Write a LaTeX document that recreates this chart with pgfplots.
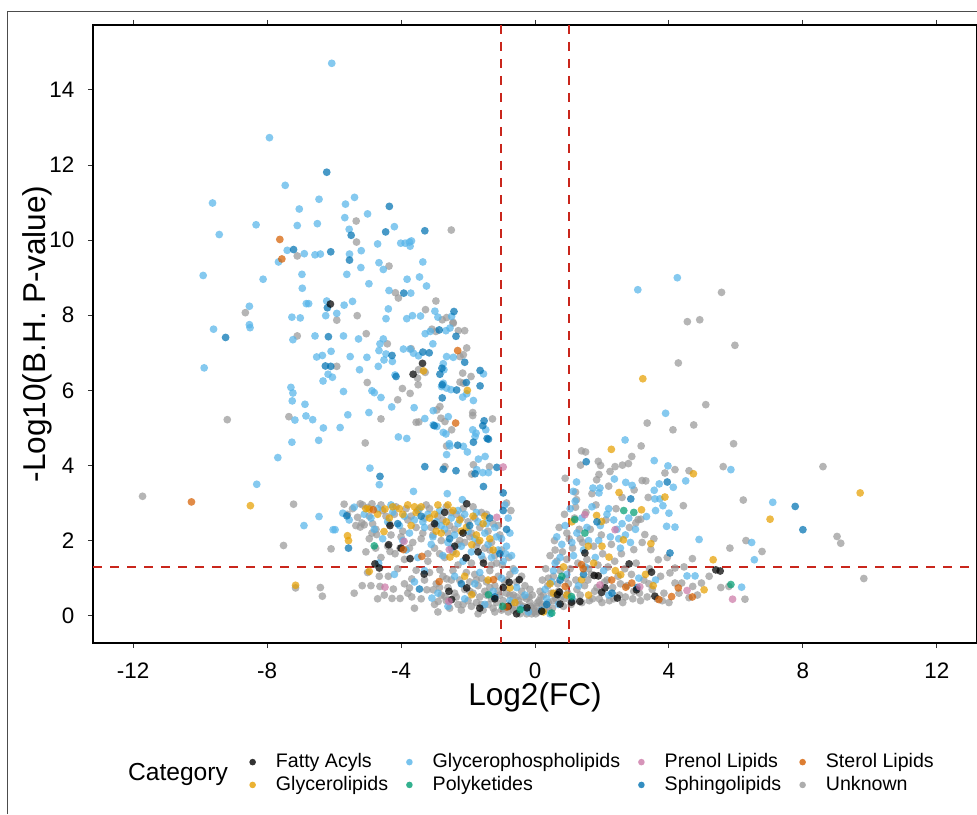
\documentclass[border=0pt]{standalone}
\usepackage{fontspec}
\setmainfont{Liberation Sans}
\usepackage{pgfplots}
\pgfplotsset{compat=1.18}
\definecolor{cFA}{HTML}{000000}
\definecolor{cGL}{HTML}{E69F00}
\definecolor{cGP}{HTML}{56B4E9}
\definecolor{cPK}{HTML}{009E73}
\definecolor{cPR}{HTML}{CC79A7}
\definecolor{cSP}{HTML}{0072B2}
\definecolor{cST}{HTML}{D55E00}
\definecolor{cUN}{HTML}{999999}
\definecolor{cRed}{HTML}{C9261C}
\pgfplotsset{
  pts/.style={only marks, mark=*, mark size=1.95pt, forget plot, color=#1,
    mark options={draw opacity=0, fill=#1, fill opacity=0.72}},
  key/.style={only marks, mark=*, mark size=1.65pt, color=#1,
    mark options={draw opacity=0, fill=#1, fill opacity=0.8}},
}
\tikzset{thr/.style={draw=cRed, line width=0.9pt, dash pattern=on 4.5pt off 4pt, draw opacity=1}}
\begin{document}
\begin{tikzpicture}[x=1pt,y=1pt]
\path[use as bounding box] (0,0) rectangle (488.5,407);
\draw[black!70, line width=0.5pt] (3.85,0) -- (3.85,401.2) -- (488.5,401.2);
\node[font=\fontsize{12.3}{14}\selectfont] at (89,20) {Category};
\begin{axis}[
  at={(46.5pt,85.5pt)}, anchor=south west,
  scale only axis, width=442pt, height=309pt,
  xmin=-13.2, xmax=13.2, ymin=-0.727, ymax=15.73,
  axis line style={black, line width=0.6pt},
  xtick={-12,-8,-4,0,4,8,12}, ytick={0,2,4,6,8,10,12,14},
  tick align=outside, major tick length=2.6pt,
  every tick/.style={black!80, line width=0.5pt},
  /pgf/number format/assume math mode=true,
  tick label style={font=\fontsize{11.2}{13}\selectfont},
  xticklabel style={anchor=north, inner sep=0pt, yshift=-7pt},
  yticklabel style={anchor=east, inner sep=0pt, xshift=-6.5pt},
  xlabel={Log2(FC)}, ylabel={-Log10(B.H. P-value)},
  label style={font=\fontsize{15.8}{18}\selectfont},
  xlabel style={at={(axis description cs:0.5,-0.0874)}, anchor=center},
  ylabel style={at={(axis description cs:-0.0633,0.5)}, anchor=center},
  legend columns=4, legend cell align=left,
  legend style={draw=none, fill=none, at={(0.1696,-0.2112)}, anchor=west,
    font=\fontsize{9.8}{11}\selectfont, row sep=1.8pt,
    nodes={inner ysep=0.5pt},
    /tikz/every odd column/.append style={column sep=8pt},
    /tikz/every even column/.append style={column sep=7pt}},
]
% Unknown
\addplot[pts=cUN] coordinates {
(-7.10,9.58) (-8.65,8.07) (-5.34,10.51) (-2.50,10.27) (-5.33,9.95) (-4.36,9.31) (-4.17,8.60) (-4.08,8.46)
(-5.92,7.87) (-5.31,7.99) (-3.27,8.15) (-2.96,8.38) (-2.77,7.88) (-2.64,7.94) (-2.45,7.81)
(5.57,8.61) (4.55,7.83) (4.92,7.88) (-7.10,7.45) (-9.19,5.22) (-7.35,5.30) (-11.72,3.18) (-7.21,2.97)
(-7.51,1.87) (-6.09,1.78) (-7.15,0.74) (-6.41,0.75) (-6.35,0.52) (-5.04,7.51) (-4.41,7.24) (-3.70,7.11)
(-3.08,7.63) (-2.96,7.57) (-2.44,7.79) (-2.29,7.59) (-2.10,7.59) (-2.04,7.13) (-2.14,6.95) (-2.24,6.90)
(-5.92,6.64) (-3.48,6.55) (-3.28,6.48) (-3.51,6.33) (-3.49,6.15) (-5.01,6.21) (-3.96,6.05) (-3.73,5.92)
(-4.10,5.75) (-4.60,5.24) (-3.55,5.15) (-3.47,5.16) (-5.07,4.60) (-2.16,6.46) (-1.91,6.37) (-2.24,6.22)
(-2.14,6.19) (-2.84,5.57) (-2.93,5.48) (-1.86,5.41) (-1.86,5.33) (-2.81,5.26) (-2.69,5.17) (-1.27,5.24)
(-2.49,4.95) (-2.64,4.52) (-2.69,3.97) (-1.84,4.02) (-1.36,3.97) (-1.89,3.77)
(-0.85,3.00) (-5.70,2.97) (-5.22,2.98) (-4.87,2.98) (-5.17,2.47) (-5.10,2.42) (-5.22,2.36) (-4.87,2.20)
(-4.73,2.16) (-4.76,1.80) (-4.33,1.71) (-4.18,1.65) (-4.03,1.80) (-4.65,1.05) (-4.38,1.05) (-5.16,0.80)
(-4.90,0.80) (-4.63,0.78) (-4.23,0.71) (-4.27,0.46) (-4.03,0.46) (-3.68,0.98) (-3.75,0.74) (-3.68,0.50)
(-3.55,1.21) (-3.23,0.69) (-3.04,0.69) (-2.89,0.38) (-2.69,0.51) (-2.64,0.98) (-2.84,1.22)
(5.97,7.20) (4.28,6.73) (5.10,5.62) (3.35,5.13) (4.12,4.95) (4.74,5.08) (5.93,4.58) (3.17,4.52)
(2.89,4.24) (2.79,4.05) (2.61,4.01) (2.39,3.97) (2.24,3.84) (4.18,3.89) (3.88,3.80) (4.60,3.86)
(5.62,3.97) (1.39,4.39) (1.51,4.36) (1.36,4.01) (1.89,4.11) (1.96,4.00) (1.91,3.76) (0.90,3.66)
(1.21,3.29) (1.24,3.09) (1.21,2.89) (1.84,3.62) (2.96,3.35) (3.31,3.59) (3.38,3.15) (4.43,2.93)
(6.22,3.08) (5.82,1.80) (6.30,2.00) (4.70,1.52) (5.79,0.78) (6.27,0.44) (4.97,0.87) (4.71,0.78)
(4.60,0.48) (4.18,1.27) (4.03,1.14) (4.18,0.87) (4.38,0.87) (3.68,1.49) (3.46,1.76) (3.28,2.16)
(2.95,1.76) (3.08,2.56) (3.16,2.57) (3.01,2.47)
(8.60,3.97) (9.02,2.11) (9.13,1.93) (6.78,1.71) (9.82,0.99)
(-5.45,2.85) (-5.30,2.62) (-5.00,2.88) (-4.85,2.45) (-4.60,2.95) (-4.45,2.65) (-4.30,2.15) (-4.15,2.90)
(-3.95,2.25) (-3.80,2.55) (-3.65,1.95) (-3.50,2.80) (-3.35,2.20) (-3.25,2.95) (-3.10,2.35) (-3.00,1.80)
(-2.90,2.65) (-2.80,2.00) (-2.65,2.90) (-2.55,2.40) (-2.45,1.70) (-2.35,2.70) (-2.25,2.00) (-2.15,2.85)
(-2.05,1.55) (-1.95,2.10) (-1.85,2.90) (-1.75,1.85) (-1.65,2.35) (-1.55,1.50) (-1.45,2.70) (-1.35,1.75)
(-1.25,2.45) (-1.15,1.40) (-1.05,2.15) (-0.98,1.35) (-4.95,2.05) (-4.40,1.85) (-3.90,1.50) (-3.20,1.45)
(-2.70,1.55) (-2.30,1.35) (-1.90,1.40) (-1.30,1.35) (-0.78,1.55) (-0.72,2.80)
(-5.60,2.70) (-5.35,2.40) (-5.15,2.95) (-4.95,2.65) (-4.75,2.30) (-4.55,2.80) (-4.35,2.45) (-4.20,2.70)
(-4.00,2.10) (-3.85,2.85) (-3.70,2.65) (-3.55,2.35) (-3.40,2.05) (-3.30,2.60) (-3.15,2.85) (-3.05,2.15)
(-2.95,2.40) (-2.85,1.65) (-2.75,2.55) (-2.60,2.20) (-2.50,2.75) (-2.40,2.30) (-2.30,1.90) (-2.20,2.60)
(-2.10,1.95) (-2.00,2.50) (-1.90,2.20) (-1.80,2.60) (-1.70,1.95) (-1.60,2.75) (-1.50,1.80) (-1.40,2.25)
(-1.30,1.95) (-1.20,1.60) (-1.10,2.40) (-1.00,1.75) (-3.75,1.80) (-3.20,1.65) (-4.60,1.55) (-5.05,1.70)
(-5.40,0.60) (-5.00,1.15) (-4.50,0.55) (-4.10,1.25) (-3.90,0.85) (-3.40,0.45) (-3.30,0.95) (-3.15,1.15)
(-3.00,0.30) (-2.95,0.85) (-2.80,0.55) (-2.75,1.05) (-2.60,0.75) (-2.55,0.20) (-2.45,1.20) (-2.40,0.60)
(-2.30,0.30) (-2.25,0.95) (-2.20,0.15) (-2.10,0.70) (-2.05,1.15) (-2.00,0.40) (-1.95,0.90) (-1.90,0.25)
(-1.85,0.60) (-1.80,1.10) (-1.75,0.35) (-1.70,0.80) (-1.65,0.50) (-1.60,1.00) (-1.55,0.15) (-1.50,0.65)
(-1.45,0.90) (-1.40,0.30) (-1.35,1.20) (-1.30,0.45) (-1.25,0.20) (-1.20,0.80) (-1.15,0.35) (-1.10,1.05)
(-1.05,0.55) (-1.00,0.15) (-0.95,0.40) (-0.90,0.90) (-0.85,0.60) (-0.80,0.10) (-0.75,1.10) (-0.70,0.35)
(-0.65,0.55) (-0.60,0.20) (-0.55,0.90) (-0.50,0.40) (-0.45,0.05) (-0.40,0.65) (-0.35,0.25) (-0.30,0.80)
(-0.25,0.45) (-0.20,0.15) (-0.15,0.35) (-0.10,0.05) (-0.08,0.55) (-0.05,0.20) (-0.02,0.10) (-3.60,0.20)
(-2.90,0.10) (-1.70,0.05) (-0.65,1.25) (-0.40,1.05) (-0.15,0.70) (-3.80,0.60) (-4.70,0.45)
(-2.85,0.75) (-2.65,0.40) (-2.50,0.95) (-2.35,0.50) (-2.15,0.30) (-1.95,0.65) (-1.75,0.95) (-1.60,0.30)
(-1.45,0.55) (-1.35,0.75) (-1.20,0.10) (-1.10,0.65) (-0.95,0.20) (-0.85,0.95) (-0.75,0.55) (-0.65,0.15)
(-0.55,0.50) (-0.45,0.30) (-0.35,0.50) (-0.25,0.05) (-0.18,0.50) (-0.12,0.25)
(0.02,0.05) (0.05,0.25) (0.10,0.10) (0.12,0.40) (0.15,0.65) (0.20,0.30) (0.22,0.95) (0.25,0.55)
(0.30,0.15) (0.32,1.25) (0.38,0.80) (0.40,0.35) (0.45,1.60) (0.48,0.60) (0.52,0.20) (0.55,1.05)
(0.58,2.00) (0.62,0.45) (0.65,1.45) (0.68,0.85) (0.72,2.35) (0.75,1.20) (0.78,0.50) (0.82,1.70)
(0.85,0.25) (0.88,2.70) (0.92,1.00) (0.95,1.50) (0.98,0.60) (1.02,2.05) (1.05,1.25) (1.08,0.30)
(1.12,1.80) (1.18,2.60) (1.22,0.95) (1.28,1.40) (1.32,2.30) (1.35,0.55) (1.42,1.95) (1.48,0.80)
(1.52,2.75) (1.55,1.50) (1.62,0.40) (1.65,2.30) (1.68,1.10) (1.75,1.85) (1.78,0.65) (1.82,2.95)
(1.88,1.35) (1.92,0.45) (1.98,2.15) (2.02,1.65) (2.08,0.90) (2.12,2.55) (2.18,1.30) (2.22,0.40)
(2.28,1.90) (2.32,0.75) (2.38,1.45) (2.42,2.85) (2.48,1.05) (2.52,0.55) (2.58,1.65) (2.62,0.35)
(2.68,1.25) (2.75,0.80) (2.82,2.35) (2.88,1.10) (2.92,0.45) (3.02,1.40) (3.12,0.60) (3.20,1.95)
(3.25,0.95) (3.35,0.50) (3.42,1.25) (3.50,0.70) (3.55,2.05) (3.65,0.45) (3.75,1.05) (3.85,0.60)
(3.95,1.55) (4.00,0.35) (4.30,0.60) (4.45,1.30) (4.85,0.55) (5.20,1.05) (5.55,0.75) (3.20,3.60)
(2.60,3.15) (2.20,3.45) (1.70,3.25)
(0.08,0.35) (0.18,0.50) (0.28,0.25) (0.42,0.15) (0.55,0.40) (0.70,0.65) (0.88,0.45) (1.00,0.85)
(1.15,0.40) (1.25,0.70) (1.40,0.35) (1.58,0.95) (1.72,0.45) (1.85,0.75) (2.00,0.35) (2.15,0.95)
(2.35,0.45) (2.55,0.85) (2.70,0.50) (2.95,0.65) (3.15,0.40) (3.40,0.85) (3.80,0.40) (0.60,1.75)
(0.40,1.00) (0.95,2.20) (1.35,2.05) (1.60,1.25)
};
% Glycerophospholipids
\addplot[pts=cGP] coordinates {
(-6.07,14.71) (-7.93,12.73) (-7.46,11.46) (-9.63,10.99) (-6.45,11.09) (-7.04,10.83) (-8.33,10.41) (-7.10,10.39)
(-6.50,10.44) (-9.43,10.15) (-7.40,9.73) (-6.89,9.64) (-7.66,9.42) (-6.57,9.61) (-6.41,9.63) (-9.91,9.06)
(-8.12,8.96) (-6.96,9.09) (-6.95,8.72) (-8.53,8.24) (-6.83,8.31) (-6.76,8.31) (-6.22,8.38) (-7.26,7.95)
(-7.01,7.93) (-6.25,7.99) (-8.53,7.75) (-5.39,11.14) (-5.66,10.96) (-5.68,10.60) (-5.00,10.70) (-5.55,10.29)
(-4.20,10.36) (-4.70,9.90) (-4.01,9.92) (-3.88,9.92) (-3.75,9.95) (-3.69,9.98) (-3.73,9.84) (-5.54,9.63)
(-5.19,9.72) (-4.66,9.40) (-4.53,9.22) (-3.35,9.42) (-5.62,9.09) (-5.20,9.27) (-3.82,8.96) (-3.45,9.02)
(-4.96,8.84) (-3.24,8.78) (-4.36,8.66) (-3.71,8.59) (-5.70,8.27) (-5.45,8.37) (-5.92,8.05) (-4.38,8.17)
(-4.45,7.91) (-3.83,7.91) (-3.66,7.99) (-3.42,7.98) (-2.99,8.11) (-2.90,7.95) (-2.49,7.97) (3.07,8.68)
(4.25,9.00) (-9.60,7.63) (-8.51,7.67) (-7.23,7.35) (-6.57,7.45) (-6.09,7.04) (-6.52,6.89) (-6.35,6.93)
(-6.18,6.43) (-6.05,6.35) (-6.33,6.25) (-9.88,6.60) (-7.29,6.08) (-7.23,5.93) (-7.25,5.72) (-6.87,5.63)
(-7.17,5.21) (-6.84,5.32) (-6.64,5.22) (-6.32,5.00) (-7.26,4.62) (-6.46,4.67) (-7.68,4.21) (-8.31,3.50)
(-6.45,2.64) (-6.90,2.40) (-6.03,2.29)
(-5.72,7.45) (-5.27,7.37) (-4.53,7.37) (-4.63,7.24) (-4.66,7.06) (-4.45,6.97) (-4.51,6.81) (-4.26,6.77)
(-5.52,6.90) (-5.02,6.88) (-5.24,6.55) (-4.68,6.64) (-3.93,7.10) (-3.73,7.10) (-3.63,6.99) (-3.48,6.92)
(-3.05,7.24) (-3.28,7.51) (-3.13,7.57) (-2.66,7.59) (-2.54,7.66) (-2.64,6.90) (-2.44,6.88) (-4.18,6.41)
(-5.72,5.97) (-4.87,5.99) (-4.80,5.94) (-4.60,5.81) (-4.28,5.56) (-3.61,5.54) (-5.59,5.35) (-4.96,5.41)
(-5.82,5.01) (-3.29,5.25) (-4.08,4.76) (-3.83,4.72) (-4.93,3.93) (-4.65,3.49) (-2.74,6.71) (-2.72,6.55)
(-1.54,6.44) (-2.74,6.19) (-2.64,6.06) (-2.79,6.10) (-2.51,6.02) (-2.16,5.82) (-2.04,5.91) (-1.84,5.73)
(-3.04,5.46) (-2.59,5.30) (-3.04,5.08) (-2.93,5.04) (-2.74,4.88) (-2.66,4.84) (-1.86,4.95) (-1.76,4.86)
(-1.79,4.77) (-1.47,4.95) (-2.56,4.58) (-2.54,4.52) (-2.14,4.51) (-2.02,4.36) (-2.64,4.29) (-1.69,4.17)
(-1.49,4.24) (-1.74,3.89) (-1.56,3.81) (-1.39,3.81)
(-3.63,3.31) (-2.62,3.25) (-2.17,3.09) (-5.40,2.89) (-5.74,2.73) (-5.97,2.29) (-4.67,1.40) (-3.08,0.47)
(3.90,5.39) (2.69,4.68) (3.56,4.13) (3.97,3.99) (5.85,3.89) (1.24,3.56) (1.14,3.31) (1.73,3.40)
(1.91,3.27) (1.94,3.40) (2.37,3.64) (2.71,3.55) (2.90,3.47) (3.71,3.51) (4.13,3.42) (4.50,3.59)
(3.56,3.34) (3.58,3.11) (3.73,3.11) (3.82,2.93) (3.60,2.80) (4.00,2.73) (3.93,2.38) (4.18,2.36)
(4.90,2.03) (6.47,1.95) (6.55,1.49) (6.17,0.76) (4.54,1.06) (4.78,1.06) (3.33,2.64) (7.10,3.02)
(-5.55,2.55) (-5.10,2.70) (-4.90,2.60) (-4.70,2.85) (-4.40,2.50) (-4.25,2.75) (-4.05,2.40) (-3.90,2.65)
(-3.75,2.20) (-3.60,2.55) (-3.45,2.85) (-3.30,2.35) (-3.20,2.70) (-3.05,2.10) (-2.95,2.50) (-2.85,2.80)
(-2.70,2.30) (-2.60,1.95) (-2.50,2.60) (-2.40,2.15) (-2.30,2.45) (-2.20,1.85) (-2.10,2.70) (-2.00,2.25)
(-1.90,1.70) (-1.80,2.05) (-1.70,2.50) (-1.60,1.60) (-1.50,2.20) (-1.40,1.90) (-1.30,1.55) (-1.20,2.35)
(-1.10,1.75) (-1.00,2.05) (-0.95,1.45) (-4.55,2.05) (-3.85,1.75) (-3.50,1.55) (-2.75,1.60) (-2.15,1.45)
(-0.80,2.60) (-0.75,2.20) (-0.85,1.85) (-0.70,1.60) (-0.90,2.95)
(-4.80,2.30) (-4.30,2.95) (-3.95,2.00) (-3.35,2.50) (-2.80,2.40) (-2.30,2.80) (-1.75,2.75) (-1.45,2.45)
(-1.15,2.10) (-0.88,1.65) (-2.50,1.80) (-3.10,1.90)
(-4.20,1.10) (-3.60,0.90) (-2.90,0.60) (-2.40,1.05) (-2.10,0.45) (-1.80,0.85) (-1.50,0.30) (-1.25,0.65)
(-1.00,1.00) (-0.75,0.40) (-0.55,0.75) (-0.40,0.20) (-0.30,0.55) (-0.20,0.10) (-2.60,0.25) (-3.30,1.20)
(-1.65,1.15) (-0.60,1.20)
(0.20,0.15) (0.35,0.45) (0.50,0.90) (0.60,1.40) (0.70,0.30) (0.80,1.90) (0.90,2.40) (0.95,1.10)
(1.05,2.85) (1.15,1.60) (1.25,2.20) (1.30,0.80) (1.40,2.60) (1.50,1.30) (1.60,2.00) (1.70,2.90)
(1.80,1.55) (1.95,2.40) (2.05,1.20) (2.15,2.70) (2.25,2.10) (2.35,2.55) (2.45,2.30) (2.55,1.80)
(2.60,2.45) (2.70,2.15) (2.80,2.60) (2.85,1.95) (3.00,2.30) (3.10,1.00) (3.60,0.95) (0.45,0.05)
(0.30,0.70) (1.10,0.45) (2.20,0.55) (0.65,2.10) (1.20,3.05)
(0.75,1.55) (1.10,1.95) (1.45,1.75) (1.90,2.00) (2.50,2.05) (2.20,2.85) (1.55,2.35) (0.55,1.20)
};
% Glycerolipids
\addplot[pts=cGL] coordinates {
(-8.50,2.93) (-7.15,0.81) (-3.33,6.52) (-2.02,6.00) (-4.95,2.84) (-4.48,2.84) (-5.60,2.13) (-5.57,2.00)
(-4.51,2.24) (-4.95,1.18) (3.22,6.31) (2.28,4.43) (4.73,3.78) (2.51,3.28) (3.88,3.16) (3.18,2.82)
(2.64,2.02) (3.46,1.92) (5.32,1.49) (5.05,0.69) (7.02,2.57) (9.71,3.27)
(-4.25,2.90) (-4.05,2.85) (-3.80,2.95) (-3.55,2.75) (-3.40,2.90) (-3.15,2.60) (-2.90,2.95) (-2.65,2.50)
(-2.45,2.80) (-2.25,2.55) (-2.05,2.35) (-1.85,2.65) (-1.75,2.15) (-1.55,2.45) (-1.35,2.05) (-1.25,1.75)
(-2.80,2.20) (-3.70,2.40) (-4.70,2.70) (-2.35,1.65) (-1.89,1.89) (-2.54,1.56)
(-5.05,2.85) (-4.35,2.60) (-3.95,2.70) (-3.60,2.90) (-3.00,2.70) (-2.60,2.95) (-2.20,2.25) (-1.65,2.00)
(-1.50,2.65) (-2.95,2.25)
(-1.89,0.56) (-0.75,0.74) (-2.10,1.05) (-1.40,0.95) (-0.60,0.35)
(1.59,1.85) (1.99,2.51) (2.21,1.56) (2.56,1.09) (3.53,0.80) (1.39,0.96) (1.84,2.67) (0.55,0.60)
(0.85,1.30) (1.10,2.50) (0.25,0.10) (1.60,0.55)
(0.95,0.55) (1.75,1.40) (2.40,1.20) (2.00,1.85) (3.30,1.10) (0.45,0.85)
};
% Sphingolipids
\addplot[pts=cSP] coordinates {
(-6.22,11.81) (-7.21,9.75) (-6.10,9.69) (-6.20,8.20) (-4.35,10.90) (-5.49,10.13) (-4.46,10.22) (-3.29,10.25)
(-5.54,9.47) (-3.92,8.59) (-2.42,8.10) (-9.24,7.41) (-6.17,7.43) (-6.26,6.65) (-6.10,6.64) (-4.27,6.93)
(-3.35,7.02) (-3.16,7.00) (-2.86,7.61) (-2.36,7.44) (-2.10,6.75) (-4.15,6.37) (-4.63,3.71) (-3.29,3.97)
(-2.78,6.59) (-2.84,6.43) (-1.64,6.53) (-2.77,6.15) (-2.05,6.21) (-1.64,6.12) (-2.34,6.01) (-2.77,5.80)
(-3.01,5.06) (-1.52,5.19) (-1.56,5.06) (-1.43,4.72) (-1.39,4.70) (-1.84,4.62) (-2.31,4.54) (-2.74,3.90)
(-2.36,3.86) (-1.14,3.95) (-1.79,3.78) (-1.54,3.44) (-0.95,3.27) (-5.62,2.66) (-5.57,1.80) (-3.45,0.71)
(1.53,4.10) (3.95,3.56) (2.86,3.11) (4.03,1.67) (7.77,2.91) (8.00,2.29)
(-4.10,2.45) (-3.40,2.65) (-2.55,2.05) (-1.95,2.40) (-1.35,2.60) (-1.05,1.65) (-0.85,2.30) (-0.95,2.80)
(-2.20,0.85) (-1.20,0.50) (0.75,0.95) (1.45,1.10) (2.30,0.60) (3.05,0.75) (0.35,0.30) (1.85,2.50)
};
% Fatty Acyls
\addplot[pts=cFA] coordinates {
(-6.11,8.30) (-3.36,6.72) (-3.64,6.43) (-2.04,2.98) (-4.33,2.40) (-4.37,1.89) (-4.00,1.80) (-3.73,1.52)
(-4.78,1.38) (-4.65,1.27) (-3.31,1.11) (5.40,1.22) (5.53,1.19)
(-3.00,2.45) (-2.70,2.75) (-2.15,2.20) (-1.70,1.70) (-1.54,1.40) (-2.40,1.85) (-2.06,1.54)
(-2.57,0.65) (-2.49,0.43) (-2.04,0.74) (-0.77,0.89) (-0.47,0.96) (-0.24,0.21) (-1.20,0.45) (-0.95,0.75)
(-0.80,0.25) (-1.65,0.20) (-0.55,0.05)
(2.81,1.38) (1.77,1.07) (1.89,1.06) (0.67,0.56) (0.73,0.63) (0.75,0.31) (1.09,0.36) (1.34,0.38)
(2.09,0.74) (1.99,0.62) (2.46,0.47) (3.03,0.69) (3.58,0.52) (3.48,1.16) (0.20,0.12) (1.49,1.67)
};
% Sterol Lipids
\addplot[pts=cST] coordinates {
(-7.62,10.02) (-7.56,9.50) (-10.26,3.03) (-2.31,7.06) (-2.37,5.13) (-4.83,2.82) (-3.93,1.76) (-2.86,0.91)
(4.28,0.74) (4.08,0.51) (4.70,0.50) (3.70,0.43) (2.89,0.87) (2.71,0.76) (-3.38,1.58) (-1.24,0.96)
(-0.84,0.23) (1.39,1.36) (1.44,1.25) (0.90,0.78) (2.29,0.95)
};
% Prenol Lipids
\addplot[pts=cPR] coordinates {
(-0.95,3.96) (-3.91,1.98) (-4.48,0.76) (5.90,0.44) (4.54,0.67) (-2.56,1.76) (-1.14,2.62) (-2.57,0.38)
(1.49,2.69) (2.39,2.29) (1.94,0.82) (3.13,0.77)
};
% Polyketides
\addplot[pts=cPK] coordinates {
(-4.80,1.86) (5.85,0.83) (2.65,2.80) (2.95,2.75) (-1.39,0.56) (-0.97,0.25) (-0.44,0.16) (1.49,2.20)
(1.19,2.56) (0.80,1.05) (0.50,0.07) (1.09,0.51)
};
% thresholds
\draw[thr] (axis cs:-13.2,1.301) -- (axis cs:13.2,1.301);
\draw[thr, xshift=0.25pt] (axis cs:1,15.73) -- (axis cs:1,-0.727);
\draw[thr, xshift=-0.3pt] (axis cs:-1,15.73) -- (axis cs:-1,-0.727);
% legend
\addlegendimage{key=cFA}\addlegendentry{Fatty Acyls}
\addlegendimage{key=cGP}\addlegendentry{Glycerophospholipids}
\addlegendimage{key=cPR}\addlegendentry{Prenol Lipids}
\addlegendimage{key=cST}\addlegendentry{Sterol Lipids}
\addlegendimage{key=cGL}\addlegendentry{Glycerolipids}
\addlegendimage{key=cPK}\addlegendentry{Polyketides}
\addlegendimage{key=cSP}\addlegendentry{Sphingolipids}
\addlegendimage{key=cUN}\addlegendentry{Unknown}
\end{axis}
\end{tikzpicture}
\end{document}
